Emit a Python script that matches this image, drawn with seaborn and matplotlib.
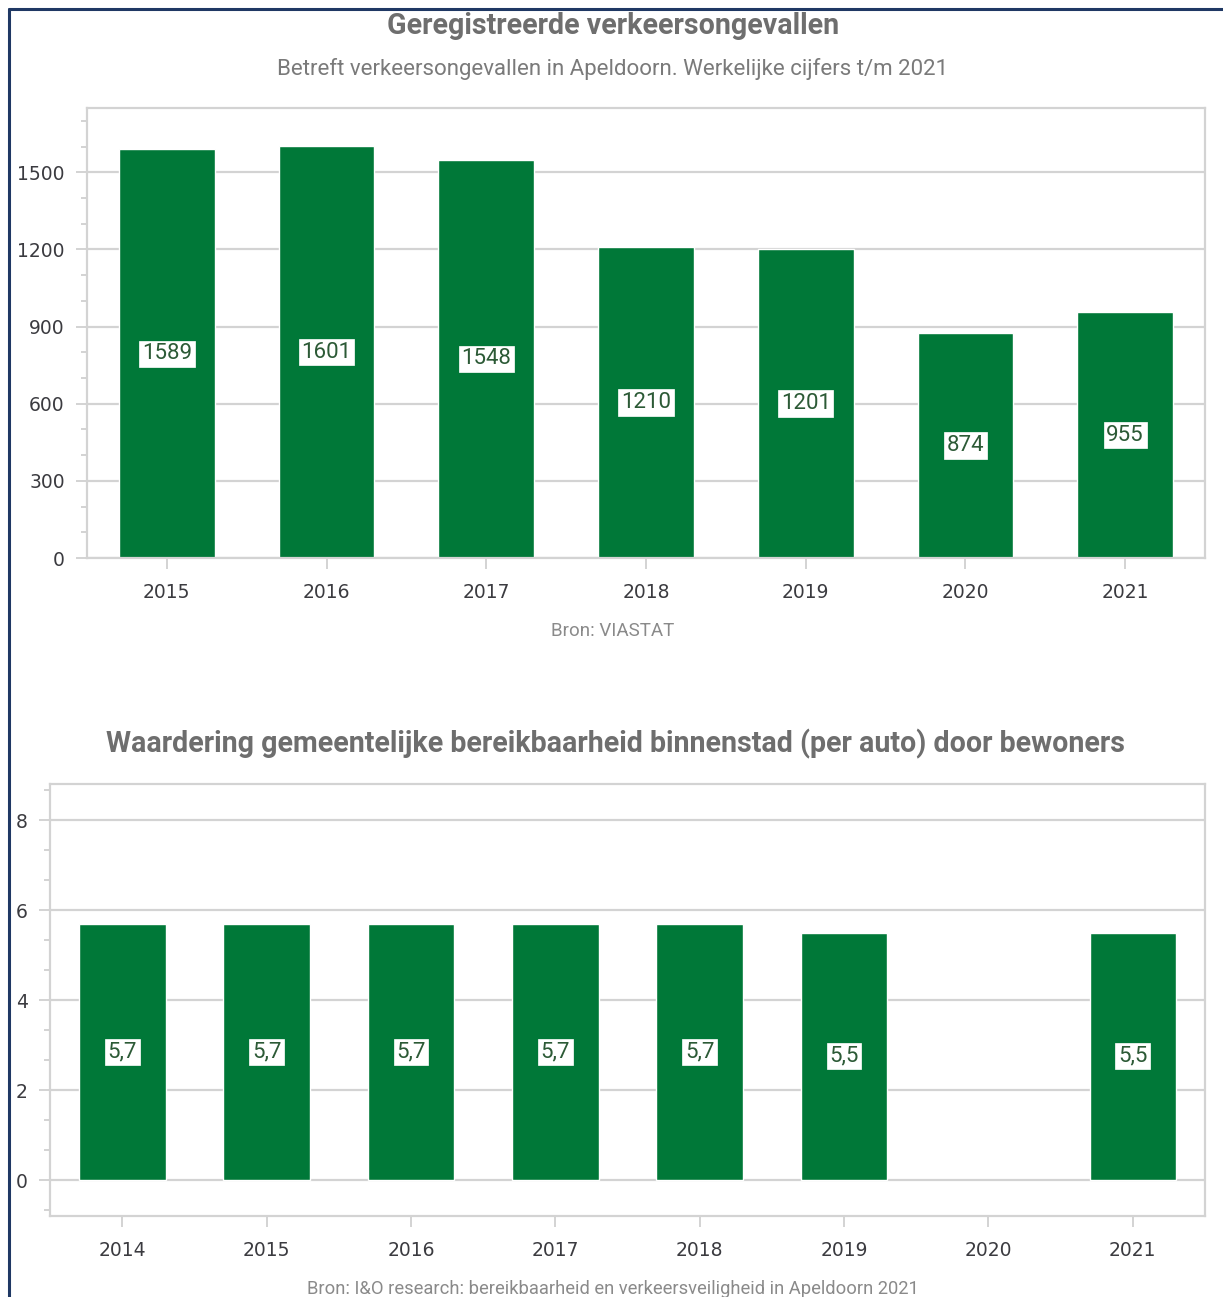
import matplotlib
matplotlib.use("Agg")
import matplotlib.pyplot as plt
from matplotlib.ticker import MultipleLocator, FixedLocator
from matplotlib.lines import Line2D
import seaborn as sns
import pandas as pd

# data
jaren_ongevallen = ["2015", "2016", "2017", "2018", "2019", "2020", "2021"]
ongevallen = [1589, 1601, 1548, 1210, 1201, 874, 955]

jaren_waardering = ["2014", "2015", "2016", "2017", "2018", "2019", "2020", "2021"]
waardering = [5.7, 5.7, 5.7, 5.7, 5.7, 5.5, None, 5.5]

sns.set_theme(style="white")
plt.rcParams["font.family"] = ["DejaVu Sans"]

GREEN = "#007838"
GRID = "#d3d3d3"
TICKC = "#3b3b40"
TITLEC = "#6e6e6e"
W, H = 1223, 1297

fig = plt.figure(figsize=(W / 100, H / 100), dpi=100)
fig.patch.set_facecolor("white")


def px_axes(x0, y0, x1, y1):
    return fig.add_axes([x0 / W, 1 - y1 / H, (x1 - x0) / W, (y1 - y0) / H])


def style_axes(ax):
    for s in ax.spines.values():
        s.set_color(GRID)
        s.set_linewidth(1.6)
    ax.grid(axis="y", color=GRID, linewidth=1.6)
    ax.set_axisbelow(True)
    ax.tick_params(axis="y", which="major", length=8, width=1.4, color=GRID,
                   labelsize=13.5, labelcolor=TICKC, pad=8, left=True)
    ax.tick_params(axis="y", which="minor", length=4, width=1.4, color=GRID, left=True)
    ax.tick_params(axis="x", which="major", length=8, width=1.4, color=GRID,
                   labelsize=13.5, labelcolor=TICKC, pad=10, bottom=True)
    ax.set_xlabel("")
    ax.set_ylabel("")


def add_labels(ax, cats, vals, fmt):
    for i, v in enumerate(vals):
        if v is None:
            continue
        ax.text(i, v / 2, fmt(v), ha="center", va="center", fontsize=16,
                family="Roboto", color="#2c5a36",
                bbox=dict(boxstyle="square,pad=0.12", facecolor="white",
                          edgecolor="white", linewidth=0.5))


# top chart
df1 = pd.DataFrame({"jaar": jaren_ongevallen, "aantal": ongevallen})
ax1 = px_axes(87, 108, 1205, 558)
sns.barplot(data=df1, x="jaar", y="aantal", order=jaren_ongevallen,
            color=GREEN, saturation=1, width=0.6, ax=ax1)
ax1.set_xlim(-0.5, len(jaren_ongevallen) - 0.5)
ax1.set_ylim(0, 1750)
ax1.yaxis.set_major_locator(FixedLocator([0, 300, 600, 900, 1200, 1500]))
ax1.yaxis.set_minor_locator(MultipleLocator(100))
style_axes(ax1)
add_labels(ax1, jaren_ongevallen, ongevallen, lambda v: f"{v}")

# bottom chart
df2 = pd.DataFrame({"jaar": jaren_waardering, "cijfer": waardering}).dropna()
ax2 = px_axes(50, 784, 1205, 1216)
sns.barplot(data=df2, x="jaar", y="cijfer", order=jaren_waardering,
            color=GREEN, saturation=1, width=0.6, ax=ax2)
ax2.set_xlim(-0.5, len(jaren_waardering) - 0.5)
ax2.set_ylim(-0.8, 8.8)
ax2.yaxis.set_major_locator(FixedLocator([0, 2, 4, 6, 8]))
ax2.yaxis.set_minor_locator(FixedLocator([-2 / 3, 2 / 3, 4 / 3, 8 / 3, 10 / 3, 14 / 3,
                                          16 / 3, 20 / 3, 22 / 3, 26 / 3]))
style_axes(ax2)
add_labels(ax2, jaren_waardering, waardering, lambda v: f"{v:.1f}".replace(".", ","))

# titles and sources
fig.text(613 / W, 1 - 26 / H, "Geregistreerde verkeersongevallen", ha="center",
         va="center", family="Roboto", weight="bold", fontsize=20.6, color=TITLEC)
fig.text(613 / W, 1 - 69 / H, "Betreft verkeersongevallen in Apeldoorn. Werkelijke cijfers t/m 2021",
         ha="center", va="center", family="Roboto", fontsize=16, color="#7a7a7a")
fig.text(613 / W, 1 - 631 / H, "Bron: VIASTAT", ha="center", va="center",
         family="Roboto", fontsize=13.5, color="#8a8a8a")
fig.text(615 / W, 1 - 744 / H, "Waardering gemeentelijke bereikbaarheid binnenstad (per auto) door bewoners",
         ha="center", va="center", family="Roboto", weight="bold", fontsize=20.6, color=TITLEC)
fig.text(613 / W, 1 - 1289 / H, "Bron: I&O research: bereikbaarheid en verkeersveiligheid in Apeldoorn 2021",
         ha="center", va="center", family="Roboto", fontsize=13.2, color="#8a8a8a")

# outer frame (left and top)
fig.add_artist(Line2D([9 / W, 9 / W], [0, 1 - 9 / H], color="#1f3864", linewidth=2.2))
fig.add_artist(Line2D([9 / W, 1], [1 - 9 / H, 1 - 9 / H], color="#1f3864", linewidth=2.2))

fig.savefig("out.png", dpi=100, facecolor="white")
